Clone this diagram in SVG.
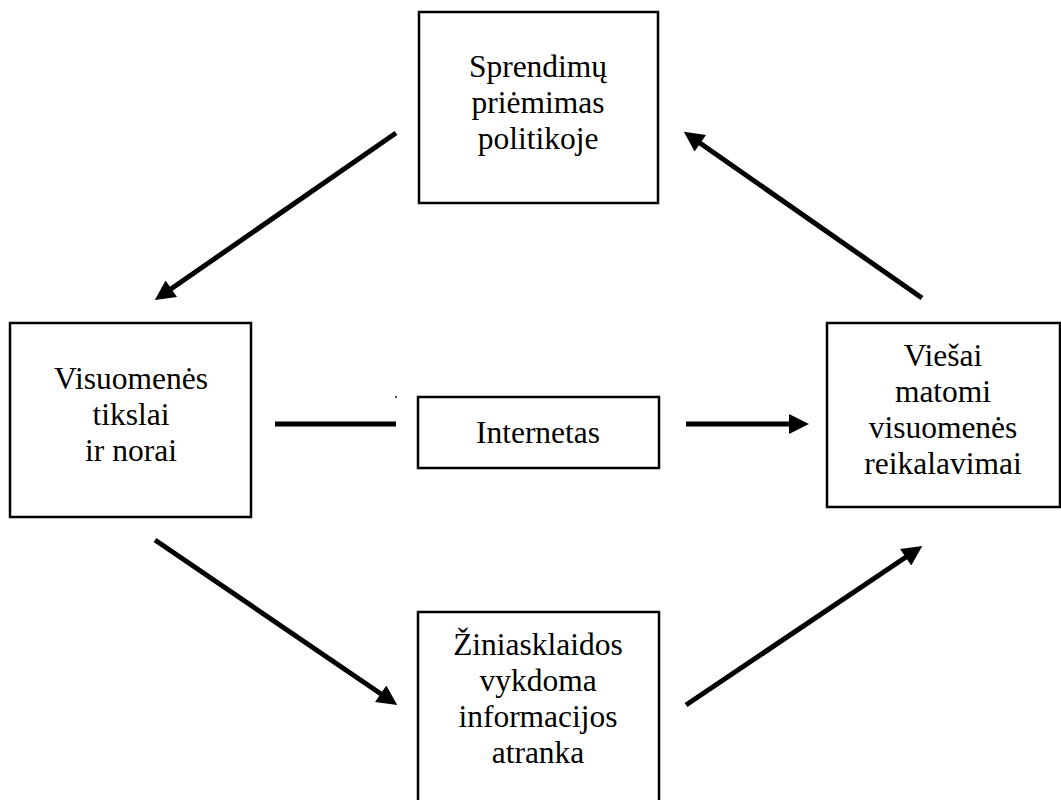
<svg xmlns="http://www.w3.org/2000/svg" width="1061" height="800" viewBox="0 0 1061 800">
<style>
.box{fill:#fff;stroke:#000;stroke-width:2.5}
.t{font-family:"Liberation Serif","Times New Roman",serif;font-size:31.5px;fill:#000;text-anchor:middle}
.c{stroke:#000;stroke-width:5;fill:none}
</style>
<defs>
<marker id="ah" viewBox="0 0 10 10" refX="2" refY="5" markerWidth="4.4" markerHeight="4" orient="auto" markerUnits="strokeWidth">
<path d="M0,0 L10,5 L0,10 z" fill="#000"/>
</marker>
</defs>
<rect width="1061" height="800" fill="#fff"/>
<g id="node-top">
<rect class="box" x="419" y="12" width="239" height="191"/>
<text class="t" x="538" y="77">Sprendimų</text>
<text class="t" x="538" y="113">priėmimas</text>
<text class="t" x="538" y="149">politikoje</text>
</g>
<g id="node-left">
<rect class="box" x="10" y="323" width="241" height="194"/>
<text class="t" x="131" y="389">Visuomenės</text>
<text class="t" x="131" y="425">tikslai</text>
<text class="t" x="131" y="461">ir norai</text>
</g>
<g id="node-mid">
<rect class="box" x="418" y="397" width="241" height="71"/>
<text class="t" x="538" y="443">Internetas</text>
</g>
<g id="node-right">
<rect class="box" x="827" y="323" width="233" height="184"/>
<text class="t" x="943" y="366">Viešai</text>
<text class="t" x="943" y="402">matomi</text>
<text class="t" x="943" y="438">visuomenės</text>
<text class="t" x="943" y="474">reikalavimai</text>
</g>
<g id="node-bottom">
<rect class="box" x="418" y="612" width="241" height="210"/>
<text class="t" x="538" y="655">Žiniasklaidos</text>
<text class="t" x="538" y="691">vykdoma</text>
<text class="t" x="538" y="727">informacijos</text>
<text class="t" x="538" y="763">atranka</text>
</g>
<g id="connectors">
<line class="c" x1="396" y1="133" x2="168" y2="291" marker-end="url(#ah)"/>
<line class="c" x1="922" y1="298" x2="697" y2="141" marker-end="url(#ah)"/>
<line class="c" x1="275" y1="424" x2="396" y2="424"/>
<circle cx="396" cy="397" r="0.9" fill="#000"/>
<line class="c" x1="686" y1="424" x2="793" y2="424" marker-end="url(#ah)"/>
<line class="c" x1="155" y1="540" x2="384" y2="696" marker-end="url(#ah)"/>
<line class="c" x1="686" y1="705" x2="909" y2="555" marker-end="url(#ah)"/>
</g>
</svg>
